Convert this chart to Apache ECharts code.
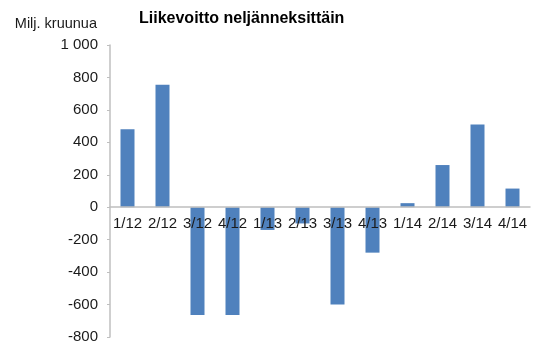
<!DOCTYPE html>
<html>
<head>
<meta charset="utf-8">
<script src="https://cdn.jsdelivr.net/npm/echarts@6/dist/echarts.min.js"></script>
<style>
html,body{margin:0;padding:0;background:#fff;}
#c{width:538px;height:347px;}
</style>
</head>
<body>
<div id="c"></div>
<script>
var categories = ['1/12','2/12','3/12','4/12','1/13','2/13','3/13','4/13','1/14','2/14','3/14','4/14'];
var profit = [480, 755, -665, -665, -140, -100, -600, -280, 25, 260, 510, 115];
var yTicks = {min: -800, max: 1000, step: 200};
var titleText = 'Liikevoitto neljänneksittäin';
var unitText = 'Milj. kruunua';

var W = 538, H = 347;
var gridTop = 45, gridBottom = 10;
var gridH = H - gridTop - gridBottom;
var zeroOffset = -gridH * (0 - yTicks.min) / (yTicks.max - yTicks.min);

var chart = echarts.init(document.getElementById('c'), null, {renderer:'canvas'});
var font = 'Liberation Sans, Arial, sans-serif';
chart.setOption({
  animation: false,
  backgroundColor: '#ffffff',
  title: {
    text: titleText,
    left: 134,
    top: 6,
    textStyle: {fontFamily: font, fontSize: 16, fontWeight: 'bold', color: '#000000'}
  },
  grid: {left: 110, right: 8, top: gridTop, bottom: gridBottom, containLabel: false, outerBoundsMode: 'none'},
  xAxis: {
    type: 'category',
    data: categories,
    position: 'bottom',
    offset: zeroOffset,
    z: 3,
    axisLine: {onZero: false, lineStyle: {color: '#bfbfbf', width: 1.5}},
    axisTick: {show: false},
    axisLabel: {interval: 0, margin: 9, fontFamily: font, fontSize: 15, color: '#1a1a1a'},
    splitLine: {show: false}
  },
  yAxis: {
    type: 'value',
    min: yTicks.min, max: yTicks.max, interval: yTicks.step,
    name: unitText,
    nameLocation: 'end',
    nameGap: 14,
    nameTextStyle: {fontFamily: font, fontSize: 14.5, color: '#1a1a1a', align: 'right', padding: [0, 13, 0, 0]},
    axisLine: {show: true, lineStyle: {color: '#bfbfbf', width: 1.5}},
    axisTick: {show: true, inside: false, length: 3, lineStyle: {color: '#bfbfbf'}},
    axisLabel: {margin: 12, fontFamily: font, fontSize: 15, color: '#1a1a1a',
      formatter: function (v) { return v === 1000 ? '1 000' : String(v); }},
    splitLine: {show: false}
  },
  series: [{
    type: 'bar',
    data: profit,
    barWidth: 14,
    itemStyle: {color: '#4f81bd'}
  }]
});
</script>
</body>
</html>
